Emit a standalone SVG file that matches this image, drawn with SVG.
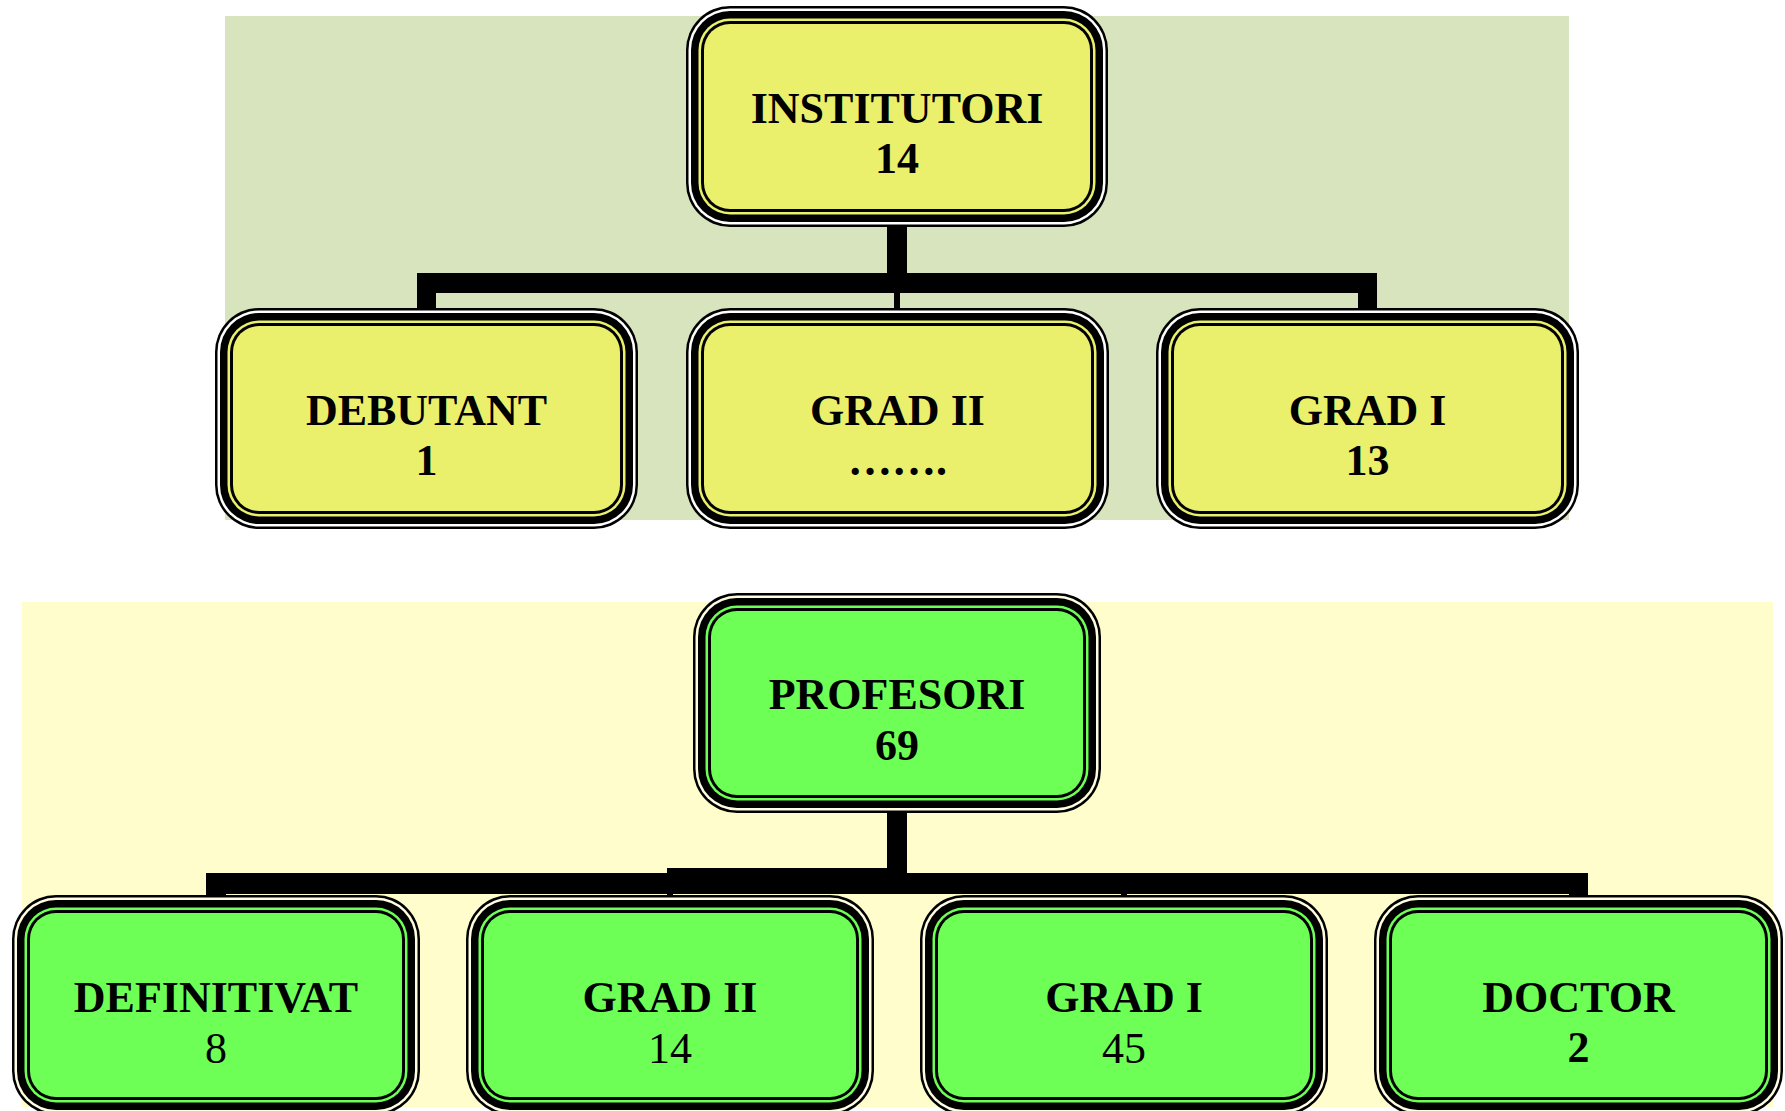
<svg xmlns="http://www.w3.org/2000/svg" width="1785" height="1111" viewBox="0 0 1785 1111">
<style>
.k{fill:#000}
.w{fill:#fff}
.c{fill:#FFFDE2}
.y{fill:#EAF06C}
.g{fill:#6EFF57}
text{font-family:"Liberation Serif","Times New Roman",serif;font-size:44px;fill:#000;text-anchor:middle}
.b{font-weight:bold}
</style>
<rect x="225" y="16" width="1344" height="504" fill="#D8E4BE"/>
<rect x="22" y="602" width="1751" height="505" fill="#FFFDCC"/>

<g id="connectors" class="k">
<rect x="887" y="226" width="20" height="67"/>
<rect x="417" y="273" width="960" height="20"/>
<rect x="417" y="273" width="19" height="37"/>
<rect x="1358" y="273" width="19" height="37"/>
<rect x="894" y="292" width="6" height="18"/>
<rect x="887" y="812" width="20" height="82"/>
<rect x="206" y="873" width="1382" height="21"/>
<rect x="206" y="873" width="20" height="24"/>
<rect x="1569" y="873" width="19" height="24"/>
<rect x="667" y="868" width="220" height="6"/>
<rect x="667" y="868" width="6" height="28"/>
<rect x="1121" y="893" width="6" height="10"/>
</g>

<g id="institutori">
<rect class="k" x="686" y="6" width="422" height="221" rx="44"/>
<rect class="w" x="688.5" y="8.5" width="417" height="216" rx="41.5"/>
<rect class="k" x="691" y="11" width="412" height="211" rx="39"/>
<rect class="y" x="698.5" y="18.5" width="397" height="196" rx="31.5"/>
<rect class="k" x="701" y="21" width="392" height="191" rx="29"/>
<rect class="y" x="704" y="24" width="386" height="185" rx="26"/>
<text class="b" x="897" y="123">INSTITUTORI</text>
<text class="b" x="897" y="173">14</text>
</g>

<g id="debutant">
<rect class="k" x="215" y="308" width="423" height="221" rx="44"/>
<rect class="w" x="217.5" y="310.5" width="418" height="216" rx="41.5"/>
<rect class="k" x="220" y="313" width="413" height="211" rx="39"/>
<rect class="y" x="227.5" y="320.5" width="398" height="196" rx="31.5"/>
<rect class="k" x="230" y="323" width="393" height="191" rx="29"/>
<rect class="y" x="233" y="326" width="387" height="185" rx="26"/>
<text class="b" x="426.5" y="425">DEBUTANT</text>
<text class="b" x="426.5" y="475">1</text>
</g>

<g id="grad2-inst">
<rect class="k" x="686" y="308" width="423" height="221" rx="44"/>
<rect class="w" x="688.5" y="310.5" width="418" height="216" rx="41.5"/>
<rect class="k" x="691" y="313" width="413" height="211" rx="39"/>
<rect class="y" x="698.5" y="320.5" width="398" height="196" rx="31.5"/>
<rect class="k" x="701" y="323" width="393" height="191" rx="29"/>
<rect class="y" x="704" y="326" width="387" height="185" rx="26"/>
<text class="b" x="897.5" y="425">GRAD II</text>
<text class="b" x="897.5" y="475">…….</text>
</g>

<g id="grad1-inst">
<rect class="k" x="1156" y="308" width="423" height="221" rx="44"/>
<rect class="w" x="1158.5" y="310.5" width="418" height="216" rx="41.5"/>
<rect class="k" x="1161" y="313" width="413" height="211" rx="39"/>
<rect class="y" x="1168.5" y="320.5" width="398" height="196" rx="31.5"/>
<rect class="k" x="1171" y="323" width="393" height="191" rx="29"/>
<rect class="y" x="1174" y="326" width="387" height="185" rx="26"/>
<text class="b" x="1367.5" y="425">GRAD I</text>
<text class="b" x="1367.5" y="475">13</text>
</g>

<g id="profesori">
<rect class="k" x="693" y="593" width="408" height="220" rx="44"/>
<rect class="c" x="695.5" y="595.5" width="403" height="215" rx="41.5"/>
<rect class="k" x="698" y="598" width="398" height="210" rx="39"/>
<rect class="g" x="705.5" y="605.5" width="383" height="195" rx="31.5"/>
<rect class="k" x="708" y="608" width="378" height="190" rx="29"/>
<rect class="g" x="711" y="611" width="372" height="184" rx="26"/>
<text class="b" x="897" y="709">PROFESORI</text>
<text class="b" x="897" y="760">69</text>
</g>

<g id="definitivat">
<rect class="k" x="12" y="895" width="408" height="220" rx="44"/>
<rect class="c" x="14.5" y="897.5" width="403" height="215" rx="41.5"/>
<rect class="k" x="17" y="900" width="398" height="210" rx="39"/>
<rect class="g" x="24.5" y="907.5" width="383" height="195" rx="31.5"/>
<rect class="k" x="27" y="910" width="378" height="190" rx="29"/>
<rect class="g" x="30" y="913" width="372" height="184" rx="26"/>
<text class="b" x="216" y="1012">DEFINITIVAT</text>
<text x="216" y="1063">8</text>
</g>

<g id="grad2-prof">
<rect class="k" x="466" y="895" width="408" height="220" rx="44"/>
<rect class="c" x="468.5" y="897.5" width="403" height="215" rx="41.5"/>
<rect class="k" x="471" y="900" width="398" height="210" rx="39"/>
<rect class="g" x="478.5" y="907.5" width="383" height="195" rx="31.5"/>
<rect class="k" x="481" y="910" width="378" height="190" rx="29"/>
<rect class="g" x="484" y="913" width="372" height="184" rx="26"/>
<text class="b" x="670" y="1012">GRAD II</text>
<text x="670" y="1063">14</text>
</g>

<g id="grad1-prof">
<rect class="k" x="920" y="895" width="408" height="220" rx="44"/>
<rect class="c" x="922.5" y="897.5" width="403" height="215" rx="41.5"/>
<rect class="k" x="925" y="900" width="398" height="210" rx="39"/>
<rect class="g" x="932.5" y="907.5" width="383" height="195" rx="31.5"/>
<rect class="k" x="935" y="910" width="378" height="190" rx="29"/>
<rect class="g" x="938" y="913" width="372" height="184" rx="26"/>
<text class="b" x="1124" y="1012">GRAD I</text>
<text x="1124" y="1063">45</text>
</g>

<g id="doctor">
<rect class="k" x="1374" y="895" width="409" height="220" rx="44"/>
<rect class="c" x="1376.5" y="897.5" width="404" height="215" rx="41.5"/>
<rect class="k" x="1379" y="900" width="399" height="210" rx="39"/>
<rect class="g" x="1386.5" y="907.5" width="384" height="195" rx="31.5"/>
<rect class="k" x="1389" y="910" width="379" height="190" rx="29"/>
<rect class="g" x="1392" y="913" width="373" height="184" rx="26"/>
<text class="b" x="1578.5" y="1012">DOCTOR</text>
<text class="b" x="1578.5" y="1062">2</text>
</g>
</svg>
